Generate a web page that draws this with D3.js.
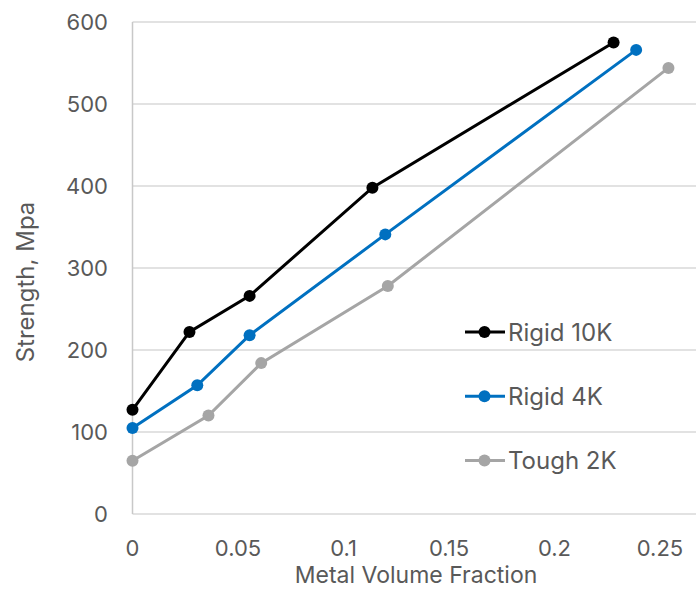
<html>
<head>
<style>
  body { margin: 0; background: #fff; }
  text { font-family: "Inter", "Liberation Sans", sans-serif; fill: #595959; }
</style>
<script src="https://d3js.org/d3.v7.min.js"></script>
</head>
<body>
<svg width="696" height="589"></svg>
<script>
var seriesNames = ["Rigid 10K", "Rigid 4K", "Tough 2K"];
var seriesColors = ["#000000", "#0070c0", "#a5a5a5"];

var rigid10kX = [0, 0.027, 0.0555, 0.1137, 0.228];
var rigid10kY = [127, 222, 266, 398, 575];
var rigid4kX = [0, 0.0307, 0.0555, 0.1198, 0.2387];
var rigid4kY = [105, 157, 218, 341, 566];
var tough2kX = [0, 0.036, 0.061, 0.121, 0.254];
var tough2kY = [65, 120, 184, 278, 544];

var xTicks = [0, 0.05, 0.1, 0.15, 0.2, 0.25];
var yTicks = [0, 100, 200, 300, 400, 500, 600];

var series = [
  { name: seriesNames[0], color: seriesColors[0], pts: d3.zip(rigid10kX, rigid10kY) },
  { name: seriesNames[1], color: seriesColors[1], pts: d3.zip(rigid4kX, rigid4kY) },
  { name: seriesNames[2], color: seriesColors[2], pts: d3.zip(tough2kX, tough2kY) }
];

var svg = d3.select("svg");
var plotLeft = 132.5, plotTop = 22, plotBottom = 514;

var x = d3.scaleLinear().domain([0, 0.3]).range([plotLeft, plotLeft + 0.3 * 2110]);
var y = d3.scaleLinear().domain([0, 600]).range([plotBottom, plotTop]);

// gridlines
svg.append("g").selectAll("line")
  .data(yTicks)
  .enter().append("line")
  .attr("x1", plotLeft).attr("x2", 696)
  .attr("y1", function(d) { return y(d); })
  .attr("y2", function(d) { return y(d); })
  .attr("stroke", "#d9d9d9").attr("stroke-width", 1.5);

// left axis line
svg.append("line")
  .attr("x1", plotLeft).attr("x2", plotLeft)
  .attr("y1", plotTop).attr("y2", plotBottom)
  .attr("stroke", "#c8c8c8").attr("stroke-width", 1.5);

// y tick labels
svg.append("g").selectAll("text")
  .data(yTicks)
  .enter().append("text")
  .attr("x", 108)
  .attr("y", function(d) { return y(d); })
  .attr("dy", "0.36em")
  .attr("text-anchor", "end")
  .attr("font-size", "22px")
  .text(function(d) { return d; });

// x tick labels
svg.append("g").selectAll("text")
  .data(xTicks)
  .enter().append("text")
  .attr("x", function(d) { return x(d); })
  .attr("y", 556)
  .attr("text-anchor", "middle")
  .attr("font-size", "22px")
  .text(function(d) { return d; });

// axis titles
svg.append("text")
  .attr("x", 416)
  .attr("y", 583)
  .attr("text-anchor", "middle")
  .attr("font-size", "23px")
  .text("Metal Volume Fraction");

svg.append("text")
  .attr("transform", "translate(34,282) rotate(-90)")
  .attr("text-anchor", "middle")
  .attr("font-size", "24px")
  .text("Strength, Mpa");

var line = d3.line()
  .x(function(d) { return x(d[0]); })
  .y(function(d) { return y(d[1]); });

series.forEach(function(s) {
  svg.append("path")
    .datum(s.pts)
    .attr("d", line)
    .attr("fill", "none")
    .attr("stroke", s.color)
    .attr("stroke-width", 3);
  svg.append("g").selectAll("circle")
    .data(s.pts)
    .enter().append("circle")
    .attr("cx", function(d) { return x(d[0]); })
    .attr("cy", function(d) { return y(d[1]); })
    .attr("r", 6)
    .attr("fill", s.color);
});

// legend
var legend = svg.append("g").selectAll("g")
  .data(series)
  .enter().append("g")
  .attr("transform", function(d, i) { return "translate(465," + (332 + i * 64.3) + ")"; });

legend.append("line")
  .attr("x1", 0).attr("x2", 40)
  .attr("stroke", function(d) { return d.color; })
  .attr("stroke-width", 3);
legend.append("circle")
  .attr("cx", 19.5).attr("r", 6)
  .attr("fill", function(d) { return d.color; });
legend.append("text")
  .attr("x", 43)
  .attr("dy", "0.36em")
  .attr("font-size", "24px")
  .text(function(d) { return d.name; });
</script>
</body>
</html>
